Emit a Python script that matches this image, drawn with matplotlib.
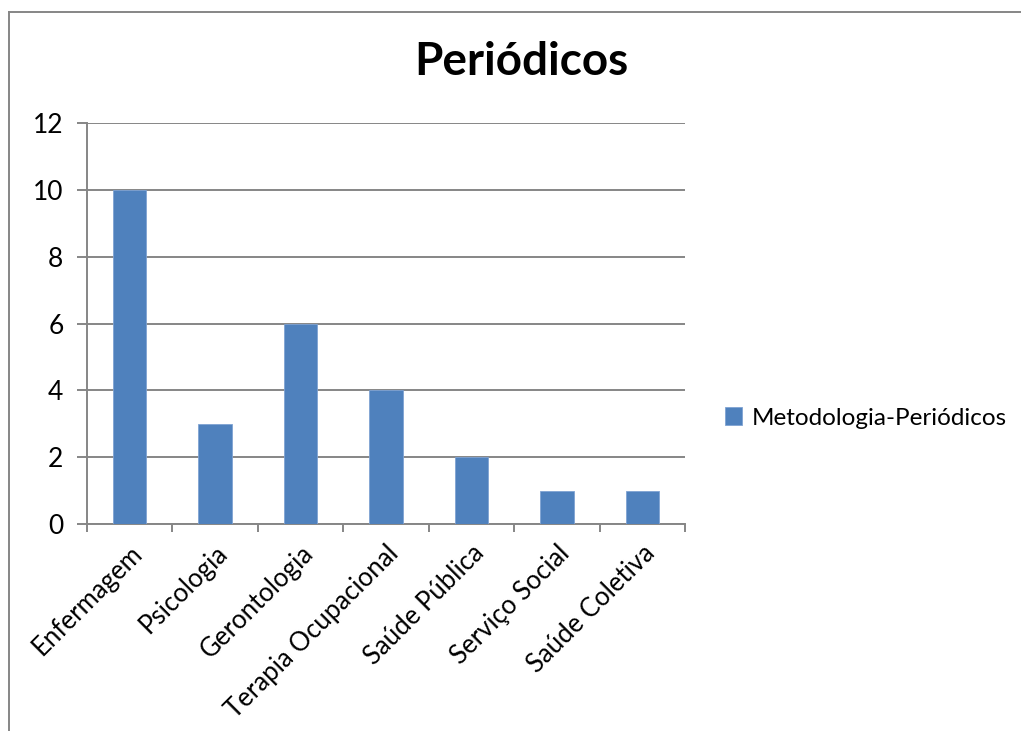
import matplotlib
matplotlib.use("Agg")
import matplotlib.pyplot as plt
from matplotlib.lines import Line2D
import numpy as np

# Chart data
categories = ["Enfermagem", "Psicologia", "Gerontologia", "Terapia Ocupacional",
              "Saúde Pública", "Serviço Social", "Saúde Coletiva"]
values = [10, 3, 6, 4, 2, 1, 1]
series_name = "Metodologia-Periódicos"
title = "Periódicos"
y_ticks = [0, 2, 4, 6, 8, 10, 12]

BAR_COLOR = "#4F81BD"
GRAY = "#868686"

plt.rcParams["font.family"] = ["Lato", "DejaVu Sans"]

fig = plt.figure(figsize=(10.21, 7.31), dpi=100)
ax = fig.add_axes([87 / 1021, 1 - 524 / 731, (685 - 87) / 1021, (524 - 123) / 731])

x = np.arange(len(categories))
ax.bar(x, values, width=0.39, color=BAR_COLOR, edgecolor="#7FA3D3", linewidth=0.6,
       label=series_name, zorder=3)

ax.set_xlim(-0.5, len(categories) - 0.5)
ax.set_ylim(0, 12)
ax.set_yticks(y_ticks)
ax.set_yticklabels([str(v) for v in y_ticks], fontsize=19)
ax.yaxis.grid(True, color=GRAY, linewidth=1.4, zorder=0)

# category labels at the centres, tick marks on the boundaries
ax.set_xticks(x)
ax.set_xticklabels(categories, rotation=45, ha="right", rotation_mode="anchor",
                   fontsize=18.5)
ax.tick_params(axis="x", which="major", length=0, pad=12)
ax.set_xticks(np.arange(len(categories) + 1) - 0.5, minor=True)
ax.tick_params(axis="x", which="minor", length=6, width=1.4, color=GRAY)
ax.tick_params(axis="y", length=7, width=1.4, color=GRAY, pad=10)

for side in ("top", "right"):
    ax.spines[side].set_visible(False)
for side in ("left", "bottom"):
    ax.spines[side].set_color(GRAY)
    ax.spines[side].set_linewidth(1.4)

fig.text(521 / 1021, 1 - 62 / 731, title, fontsize=33, fontweight="bold",
         ha="center", va="center")

ax.legend(loc="center left", bbox_to_anchor=((725 - 87) / 598, (524 - 418) / 401),
          frameon=False, fontsize=17.5, handlelength=0.7, handleheight=0.7,
          handletextpad=0.4, borderpad=0, borderaxespad=0)

# outer chart frame (only left and top edges visible in the crop)
fig.add_artist(Line2D([9 / 1021, 9 / 1021], [0, 1 - 12 / 731], transform=fig.transFigure,
                      color=GRAY, linewidth=1.4))
fig.add_artist(Line2D([9 / 1021, 1], [1 - 12 / 731, 1 - 12 / 731], transform=fig.transFigure,
                      color=GRAY, linewidth=1.4))

fig.savefig("out.png", dpi=100, facecolor="white")
